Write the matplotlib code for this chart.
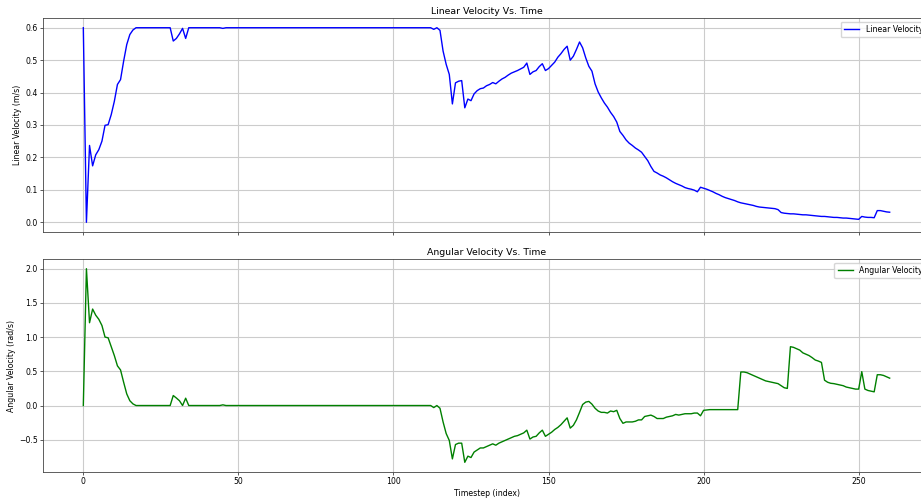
import matplotlib
matplotlib.use("Agg")
import matplotlib.pyplot as plt
import numpy as np

linear_velocity = (
    [0.6, 0.0, 0.237, 0.174, 0.208, 0.224, 0.25, 0.299, 0.301, 0.332, 0.373, 0.425, 0.44, 0.497, 0.548, 0.579, 0.593, 0.6]
    + [0.6] * 11
    + [0.559, 0.567, 0.581, 0.598, 0.567]
    + [0.6] * 11
    + [0.598]
    + [0.6] * 67
    + [0.595, 0.6, 0.592, 0.528, 0.487, 0.456, 0.365, 0.43, 0.435, 0.437,
       0.353, 0.38, 0.375, 0.396, 0.406, 0.412, 0.414, 0.421, 0.425, 0.431,
       0.427, 0.435, 0.442, 0.447, 0.454, 0.46, 0.464, 0.468, 0.473, 0.478,
       0.491, 0.456, 0.464, 0.468, 0.48, 0.489, 0.468, 0.474, 0.484, 0.494,
       0.509, 0.52, 0.533, 0.543, 0.5, 0.512, 0.533, 0.556, 0.538, 0.507,
       0.481, 0.466, 0.427, 0.402, 0.384, 0.368, 0.355, 0.339, 0.326, 0.309,
       0.28, 0.268, 0.254, 0.244, 0.237, 0.229, 0.223, 0.216, 0.203, 0.19,
       0.172, 0.157, 0.152, 0.146, 0.142, 0.137, 0.131, 0.125, 0.12, 0.116,
       0.112, 0.107, 0.104, 0.102, 0.099, 0.094, 0.108, 0.105, 0.102, 0.098,
       0.094, 0.089, 0.085, 0.08, 0.076, 0.073, 0.07, 0.067, 0.063, 0.06,
       0.058, 0.056, 0.054, 0.052, 0.049, 0.047, 0.046, 0.045, 0.044, 0.043,
       0.042, 0.039, 0.03]
    + [0.028, 0.027, 0.026, 0.026, 0.025, 0.024, 0.023, 0.023, 0.022, 0.021,
       0.02, 0.019, 0.018, 0.018, 0.017, 0.016, 0.015, 0.015, 0.014, 0.013,
       0.013, 0.012, 0.011, 0.01]
    + [0.009, 0.018, 0.016, 0.015, 0.015, 0.014, 0.036, 0.036, 0.034, 0.032, 0.031]
)

angular_velocity = (
    [0.0, 2.0, 1.21, 1.41, 1.32, 1.26, 1.17, 1.0, 0.99, 0.86, 0.73, 0.58, 0.52, 0.34, 0.17, 0.07, 0.024, 0.0]
    + [0.0] * 11
    + [0.146, 0.11, 0.07, 0.0, 0.107]
    + [0.0] * 11
    + [0.01]
    + [0.0] * 67
    + [-0.03, 0.0, -0.04, -0.24, -0.41, -0.51, -0.78, -0.57, -0.55, -0.55,
       -0.83, -0.74, -0.76, -0.68, -0.65, -0.62, -0.62, -0.60, -0.58, -0.56,
       -0.58, -0.55, -0.53, -0.51, -0.49, -0.47, -0.45, -0.44, -0.42, -0.40,
       -0.36, -0.49, -0.46, -0.45, -0.40, -0.36, -0.45, -0.42, -0.39, -0.35,
       -0.32, -0.28, -0.23, -0.18, -0.33, -0.29, -0.21, -0.10, 0.015, 0.05,
       0.06, 0.02, -0.04, -0.08, -0.10, -0.10, -0.11, -0.08, -0.09, -0.07,
       -0.19, -0.26, -0.24, -0.24, -0.24, -0.23, -0.21, -0.21, -0.16, -0.15,
       -0.14, -0.16, -0.19, -0.19, -0.19, -0.17, -0.16, -0.15, -0.13, -0.14,
       -0.13, -0.12, -0.12, -0.12, -0.11, -0.11, -0.15, -0.07, -0.065]
    + [-0.06] * 10
    + [0.49, 0.49, 0.48, 0.46, 0.44, 0.42, 0.40, 0.38, 0.36, 0.35,
       0.34, 0.33, 0.32, 0.29, 0.26, 0.25,
       0.86, 0.85, 0.83, 0.81, 0.77, 0.75, 0.73, 0.70, 0.665, 0.65, 0.63,
       0.37, 0.34, 0.325, 0.32, 0.31, 0.30, 0.29, 0.27, 0.26, 0.25, 0.24, 0.24,
       0.495, 0.24, 0.22, 0.21, 0.20,
       0.45, 0.45, 0.44, 0.42, 0.40]
)

x_lin = np.arange(len(linear_velocity))
x_ang = np.arange(len(angular_velocity))

S = 0.56
fig = plt.figure(figsize=(9.21, 4.98), dpi=100)
W, H = 921, 498
ax1 = fig.add_axes([43 / W, 1 - 232 / H, 887 / W, 214 / H])
ax2 = fig.add_axes([43 / W, 1 - 472 / H, 887 / W, 213 / H], sharex=ax1)

ax1.plot(x_lin, linear_velocity, color="blue", lw=1.0, label="Linear Velocity")
ax1.set_title("Linear Velocity Vs. Time", fontsize=12 * S, pad=5 * S)
ax1.set_ylabel("Linear Velocity (m/s)", fontsize=10 * S, labelpad=4 * S)
ax1.legend(loc="upper right", fontsize=10 * S)
ax1.grid(True, lw=0.8, color="#cccccc")
plt.setp(ax1.get_xticklabels(), visible=False)

ax2.plot(x_ang, angular_velocity, color="green", lw=1.0, label="Angular Velocity")
ax2.set_title("Angular Velocity Vs. Time", fontsize=12 * S, pad=5 * S)
ax2.set_ylabel("Angular Velocity (rad/s)", fontsize=10 * S, labelpad=4 * S)
ax2.set_xlabel("Timestep (index)", fontsize=10 * S, labelpad=2)
ax2.legend(loc="upper right", fontsize=10 * S)
ax2.grid(True, lw=0.8, color="#cccccc")

for ax in (ax1, ax2):
    ax.tick_params(labelsize=10 * S, width=0.8 * S, length=3.5 * S, pad=3.5 * S)
    for sp in ax.spines.values():
        sp.set_linewidth(0.6)
        sp.set_color("#444444")

fig.savefig("out.png", dpi=100)
